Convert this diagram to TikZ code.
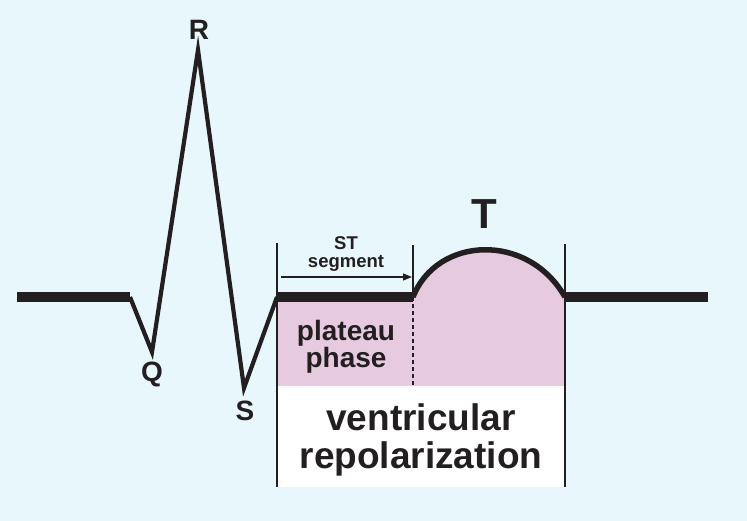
\documentclass[tikz,border=0pt]{standalone}
\usepackage{fontspec}
\setmainfont{Liberation Sans}
\usetikzlibrary{arrows.meta}
\definecolor{bgblue}{HTML}{E8F7FC}
\definecolor{plateaupink}{HTML}{E6CBE0}
\definecolor{inkblack}{HTML}{231F20}

\begin{document}
\begin{tikzpicture}[x=1pt, y=-1pt,
  trace/.style={draw=inkblack, line width=4.2pt, line join=miter, miter limit=20},
  flat/.style={draw=inkblack, line width=9.5pt},
  marker/.style={draw=inkblack, line width=1.4pt},
  wave/.style={font=\bfseries\fontsize{28}{28}\selectfont, text=inkblack, inner sep=0pt},
  caption/.style={font=\bfseries, text=inkblack, align=center, inner sep=0pt, anchor=base}]

% background
\fill[bgblue] (0,0) rectangle (747,521);
\useasboundingbox (0,0) rectangle (747,521);

% key points of the trace
\coordinate (start) at (17,297);
\coordinate (qon) at (130,297);
\coordinate (qpeak) at (152,352);
\coordinate (rpeak) at (198,50);
\coordinate (speak) at (244,388);
\coordinate (jpoint) at (277,297);
\coordinate (ton) at (413,297);
\coordinate (toff) at (565,297);
\coordinate (stop) at (708,297);

% shaded areas
\fill[plateaupink] (jpoint) -- (ton) .. controls (437,236) and (528,232) .. (toff) -- (565,386) -- (277,386) -- cycle;
\fill[white] (277,386) rectangle (565,487);

% interval markers
\draw[marker] (277,243) -- (277,487);
\draw[marker] (565,244) -- (565,487);
\draw[marker] (413,245) -- (ton);
\draw[marker, dashed, dash pattern=on 4pt off 3pt] (ton) -- (413,386);

% ECG trace
\draw[flat] (start) -- (qon);
\draw[flat] (jpoint) -- (ton);
\draw[flat] (toff) -- (stop);
\draw[trace] (qon) -- (qpeak) -- (rpeak) -- (speak) -- (jpoint);
\draw[draw=inkblack, line width=5.5pt] (ton) .. controls (437,236) and (528,232) .. (toff);

% ST segment arrow
\coordinate (stl) at (281,277);
\coordinate (str) at (412,277);
\draw[marker, -{Triangle[length=9pt, width=7pt]}] (stl) -- (str);

% wave labels
\node[wave] (rlabel) at (199,30) {R};
\node[wave] (qlabel) at (152,374) {Q};
\node[wave] (slabel) at (245,411) {S};
\node[wave, font=\bfseries\fontsize{42}{42}\selectfont] (tlabel) at (484,214) {T};

% captions (anchor = baseline of last line)
\node[caption, font=\bfseries\fontsize{18.5}{18}\selectfont] (stseg) at (346,268) {ST\\segment};
\node[caption, font=\bfseries\fontsize{28}{27}\selectfont] (plateau) at (346,367) {plateau\\phase};
\node[caption, font=\bfseries\fontsize{37}{38}\selectfont] (repol) at (421,468) {ventricular\\repolarization};
\end{tikzpicture}
\end{document}
